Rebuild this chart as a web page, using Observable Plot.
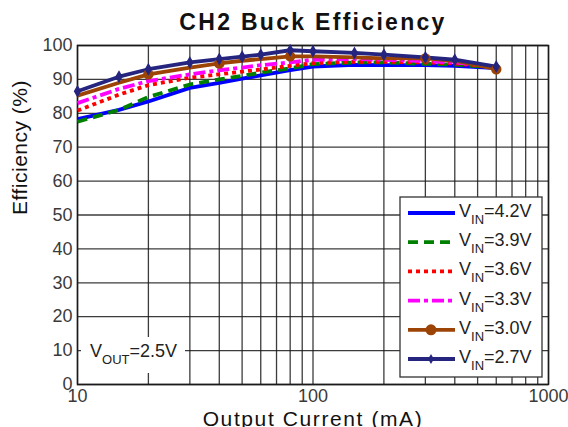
<!DOCTYPE html>
<html>
<head>
<meta charset="utf-8">
<script src="https://cdn.jsdelivr.net/npm/d3@7"></script>
<script src="https://cdn.jsdelivr.net/npm/@observablehq/plot@0.6"></script>
<style>
  html, body { margin: 0; padding: 0; background: #fff; }
  #chart { width: 568px; height: 427px; overflow: hidden; }
</style>
</head>
<body>
<div id="chart"></div>
<script>
// ---- data ----
const currents = [10, 15, 20, 30, 40, 50, 60, 80, 100, 150, 200, 300, 400, 600];
const vin42 = [78.3, 81.0, 83.5, 87.5, 89.0, 90.2, 91.2, 92.7, 93.8, 94.3, 94.2, 94.2, 94.0, 93.3];
const vin39 = [77.5, 81.0, 84.8, 88.5, 90.0, 91.0, 92.0, 93.3, 94.5, 95.0, 95.0, 94.6, 94.4, 93.5];
const vin36 = [80.8, 85.5, 88.3, 90.5, 91.5, 92.3, 92.9, 94.0, 94.8, 95.2, 95.2, 95.0, 94.7, 93.6];
const vin33 = [83.0, 87.2, 89.5, 91.5, 92.7, 93.5, 94.2, 95.0, 95.8, 96.0, 95.8, 95.4, 95.0, 93.8];
const vin30 = [85.2, 89.0, 91.5, 93.5, 94.7, 95.5, 96.0, 96.8, 96.8, 96.5, 96.2, 96.2, 95.5, 93.0];
const vin27 = [86.5, 90.8, 93.0, 95.0, 96.0, 96.7, 97.3, 98.6, 98.3, 97.8, 97.3, 96.5, 95.8, 93.8];

const seriesLabels = ["4.2V", "3.9V", "3.6V", "3.3V", "3.0V", "2.7V"];
const seriesValues = [vin42, vin39, vin36, vin33, vin30, vin27];
const seriesColors = ["#0000ff", "#008000", "#ff0000", "#ff00ff", "#9c4306", "#25257f"];
const seriesDash = [null, "10,6", "4,4", "12,4,4,4", null, null];

const yTicks = [0, 10, 20, 30, 40, 50, 60, 70, 80, 90, 100];
const xTickLabels = [10, 100, 1000];
const xGridTicks = [10, 20, 30, 40, 50, 60, 70, 80, 90, 100, 200, 300, 400, 500, 600, 700, 800, 900, 1000];
const brownMarkerAt = [20, 40, 80, 300, 600];

const titleText = "CH2 Buck Efficiency";
const xLabel = "Output Current (mA)";
const yLabel = "Efficiency (%)";
const voutLabel = ["V", "OUT", "=2.5V"];

// ---- build table ----
const rows = [];
seriesLabels.forEach((s, i) => {
  currents.forEach((c, j) => rows.push({ current: c, eff: seriesValues[i][j], series: s }));
});
const bySeries = s => rows.filter(d => d.series === s);

const lineMarks = seriesLabels.map((s, i) =>
  Plot.line(bySeries(s), {
    x: "current", y: "eff",
    stroke: seriesColors[i], strokeWidth: 3.8,
    strokeDasharray: seriesDash[i] || undefined,
    strokeLinecap: "butt", strokeLinejoin: "round",
    curve: "linear"
  })
);

const font = "'Liberation Sans', Arial, Helvetica, sans-serif";

const plot = Plot.plot({
  width: 568, height: 427,
  marginLeft: 77, marginRight: 20, marginTop: 45, marginBottom: 43,
  style: { fontFamily: font, background: "#fff", color: "#000", overflow: "visible" },
  x: { type: "log", domain: [10, 1000] },
  y: { domain: [0, 100] },
  marks: [
    Plot.gridX(xGridTicks, { stroke: "#1a1a1a", strokeOpacity: 0.85, strokeWidth: 1.3 }),
    Plot.gridY(yTicks, { stroke: "#1a1a1a", strokeOpacity: 0.85, strokeWidth: 1.3 }),
    Plot.axisX(xTickLabels, { tickSize: 0, tickPadding: 5, fontSize: 18, fill: "#3a3a3a", tickFormat: d => String(d), label: null }),
    Plot.axisY(yTicks, { tickSize: 0, tickPadding: 5, fontSize: 18, fill: "#3a3a3a", label: null }),
    Plot.frame({ stroke: "#1a1a1a", strokeWidth: 1.5 }),
    ...lineMarks,
    Plot.dot(bySeries("3.0V").filter(d => brownMarkerAt.includes(d.current)), { x: "current", y: "eff", r: 4.5, fill: seriesColors[4], stroke: seriesColors[4] }),
    Plot.dot(bySeries("2.7V"), { x: "current", y: "eff", symbol: "diamond", r: 3, fill: seriesColors[5], stroke: seriesColors[5] }),
    Plot.text([titleText], { frameAnchor: "top", lineAnchor: "bottom", dy: -16, fontSize: 23, fontWeight: "bold", fill: "#111" }),
    Plot.text([xLabel], { frameAnchor: "bottom", lineAnchor: "bottom", dy: 41, fontSize: 21, fill: "#111" }),
    Plot.text([yLabel], { frameAnchor: "left", rotate: -90, dx: -57, lineAnchor: "middle", fontSize: 21, fill: "#111" })
  ]
});

document.getElementById("chart").appendChild(plot);

const svg = d3.select(plot);
// wider letter spacing of the reference's title and axis labels
const spacing = { [titleText]: 2.3, [xLabel]: 1.6, [yLabel]: 0.5 };
svg.selectAll("text").each(function () {
  const s = spacing[this.textContent];
  if (s != null) this.style.letterSpacing = s + "px";
});

// ---- legend and VOUT annotation, positioned with Plot's scales ----
const xs = plot.scale("x"), ys = plot.scale("y");
const frameL = xs.apply(10), frameR = xs.apply(1000), frameB = ys.apply(0);

// VOUT box
const vg = svg.append("g").attr("font-family", font).attr("text-anchor", "start");
vg.append("rect").attr("x", frameL + 4).attr("y", frameB - 47).attr("width", 104).attr("height", 36).attr("fill", "#fff");
const vt = vg.append("text").attr("x", frameL + 13).attr("y", frameB - 27).attr("font-size", 18).attr("fill", "#222");
vt.append("tspan").text(voutLabel[0]);
vt.append("tspan").attr("font-size", 13).attr("dy", 7).text(voutLabel[1]);
vt.append("tspan").attr("dy", -7).text(voutLabel[2]);

// Legend box
const lg = svg.append("g").attr("font-family", font).attr("text-anchor", "start");
const boxX = 400, boxY = 197, boxW = frameR - 6 - 400, boxH = frameB - 7 - 197;
lg.append("rect").attr("x", boxX).attr("y", boxY).attr("width", boxW).attr("height", boxH)
  .attr("fill", "#fff").attr("stroke", "#333").attr("stroke-width", 1.3);
seriesLabels.forEach((s, i) => {
  const cy = 213 + i * 29.2;
  lg.append("line").attr("x1", 408).attr("x2", 455).attr("y1", cy).attr("y2", cy)
    .attr("stroke", seriesColors[i]).attr("stroke-width", 3.8)
    .attr("stroke-dasharray", seriesDash[i] || null);
  if (i === 4) lg.append("circle").attr("cx", 431).attr("cy", cy).attr("r", 5.5).attr("fill", seriesColors[i]);
  if (i === 5) lg.append("path").attr("d", d3.symbol(d3.symbolDiamond, 30)()).attr("transform", `translate(431,${cy})`).attr("fill", seriesColors[i]);
  const t = lg.append("text").attr("x", 459).attr("y", cy + 4).attr("font-size", 18).attr("fill", "#222");
  t.append("tspan").text("V");
  t.append("tspan").attr("font-size", 13).attr("dy", 7).text("IN");
  t.append("tspan").attr("dy", -7).text("=" + s);
});
</script>
</body>
</html>
